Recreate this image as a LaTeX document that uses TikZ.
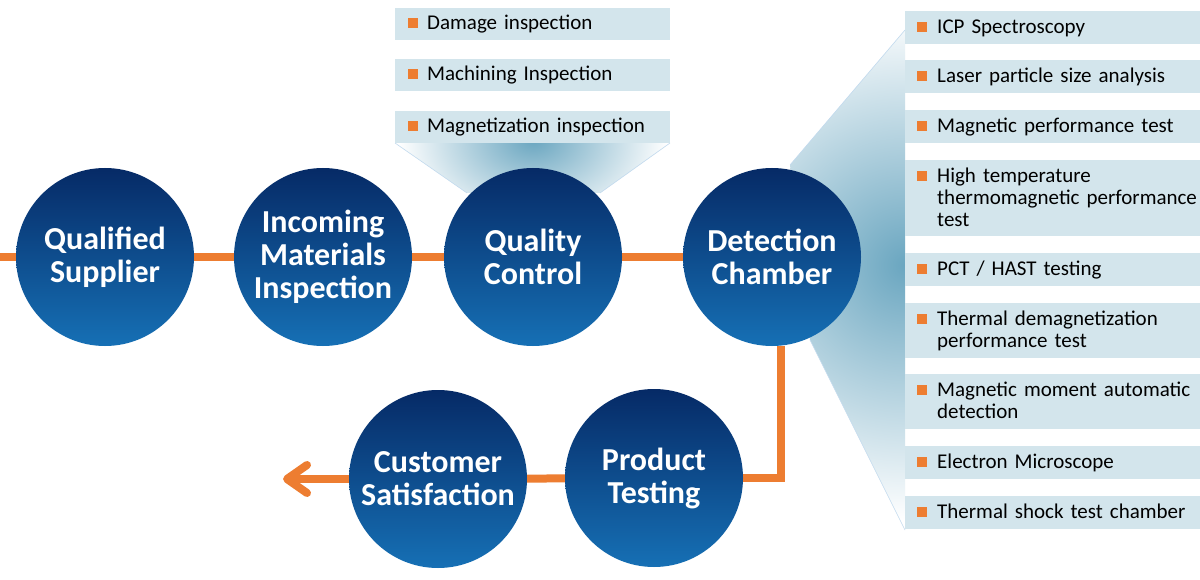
\documentclass[tikz,border=0pt]{standalone}
\usepackage{fontspec}
\setmainfont{Carlito}
\usepackage{xcolor}
\usepackage{tikz}
\usetikzlibrary{calc, arrows.meta, backgrounds}
\definecolor{navyTop}{HTML}{062A66}
\definecolor{navyBot}{HTML}{1670B5}
\definecolor{flowOrange}{HTML}{ED7D31}
\definecolor{itemFill}{HTML}{D3E5EC}
\definecolor{fanTeal}{HTML}{6AA6C0}
\definecolor{fanEdge}{HTML}{C2DAEE}

\begin{document}
\begin{tikzpicture}[x=1pt, y=-1pt,
    stage/.style={circle, minimum size=178pt, inner sep=0pt, top color=navyTop, bottom color=navyBot,
        text=white, align=center, font=\fontsize{32}{33}\selectfont\bfseries},
    flow/.style={flowOrange, line width=8pt},
    itembox/.style={fill=itemFill, anchor=north west, inner sep=0pt},
    bulletsq/.style={fill=flowOrange, minimum size=10pt, inner sep=0pt},
    itemtext/.style={anchor=base west, inner sep=0pt, align=left, text width=270pt,
        font=\fontsize{21}{22}\selectfont},
    fanedge/.style={fanEdge, line width=0.6pt}]
    \useasboundingbox (0,0) rectangle (1200,580);

    % process stages
    \node[stage] (qs)  at (105,257) {Qualified\\Supplier};
    \node[stage] (imi) at (323,257) {Incoming\\Materials\\Inspection};
    \node[stage] (qc)  at (533,257) {Quality\\Control};
    \node[stage] (dc)  at (772,257) {Detection\\Chamber};
    \node[stage] (pt)  at (654,478) {Product\\Testing};
    \node[stage] (cs)  at (438,479) {Customer\\Satisfaction};

    % quality control items
    \foreach \top/\txt [count=\i] in {8/Damage inspection, 59/Machining Inspection, 111/Magnetization inspection} {
        \node[itembox, minimum width=275pt, minimum height=32pt] (qi\i) at (395,\top) {};
        \node[bulletsq] (qb\i) at ($(qi\i.north west)+(17.5,15.5)$) {};
        \node[itemtext] (qt\i) at ($(qi\i.north west)+(32,22)$) {\txt};
    }

    % detection chamber items
    \foreach \top/\h/\txt [count=\i] in {11/33/ICP Spectroscopy, 60/33/Laser particle size analysis,
        110/33/Magnetic performance test, 160/76/{High temperature\\thermomagnetic performance\\test},
        253/33/{PCT / HAST testing}, 303/55/{Thermal demagnetization\\performance test},
        374/55/{Magnetic moment automatic\\detection}, 446/33/Electron Microscope,
        496/33/Thermal shock test chamber} {
        \node[itembox, minimum width=295pt, minimum height=\h pt] (di\i) at (905,\top) {};
        \node[bulletsq] (db\i) at ($(di\i.north west)+(17,16)$) {};
        \node[itemtext] (dt\i) at ($(di\i.north west)+(32,22.5)$) {\txt};
    }

    \begin{scope}[on background layer]
        \fill[white] (0,0) rectangle (1200,580);

        % fans
        \begin{scope}
            \clip (395,143) -- (670,143) -- (600,193) -- (467,193) -- cycle;
            \shade[inner color=fanTeal, outer color=white] (533,140) ellipse (135 and 95);
        \end{scope}
        \draw[fanedge] (395,143) -- (467,193);
        \draw[fanedge] (670,143) -- (600,193);

        \begin{scope}
            \clip (790,165) -- (905,30) -- (905,530) -- (810,340) -- cycle;
            \shade[inner color=fanTeal, outer color=white] (905,265) circle (255);
        \end{scope}
        \draw[fanedge] (790,165) -- (905,30);
        \draw[fanedge] (810,340) -- (905,530);

        % flow line
        \coordinate (start) at (0,257);
        \coordinate (finish) at (283,479);
        \draw[flow] (start) -- (qs);
        \foreach \a/\b in {qs/imi, imi/qc, qc/dc}
            \draw[flow] (\a) -- (\b);
        \draw[flow] (dc.-84) |- (pt);
        \draw[flow] (pt) -- (cs);
        \draw[flow, -{Straight Barb[round, length=20pt, width=28pt]}] (cs) -- (finish);
    \end{scope}
\end{tikzpicture}
\end{document}
